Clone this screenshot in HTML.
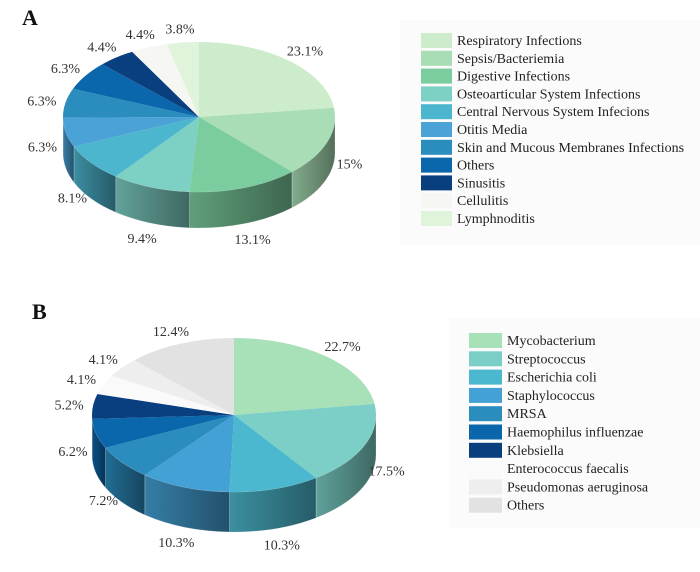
<!DOCTYPE html>
<html><head><meta charset="utf-8"><style>
body{margin:0;background:#fff;}
svg{display:block;font-family:"Liberation Serif",serif;}
</style></head><body>
<svg id="chart" width="700" height="572" viewBox="0 0 700 572" xmlns="http://www.w3.org/2000/svg">
<defs id="defs"></defs>
<rect x="0" y="0" width="700" height="572" fill="#fff"/>
<rect x="400" y="20" width="300" height="225" fill="#fbfbfb"/>
<rect x="450" y="318" width="250" height="210" fill="#fbfbfb"/>
<text x="22" y="25" font-size="22" font-weight="bold" fill="#111">A</text>
<text x="32" y="319" font-size="22" font-weight="bold" fill="#111">B</text>
<g id="pieA"></g>
<g id="pieB"></g>
<g id="legA"></g>
<g id="legB"></g>
</svg>
<script>
const catsA = ["Respiratory Infections","Sepsis/Bacteriemia","Digestive Infections","Osteoarticular System Infections","Central Nervous System Infecions","Otitis Media","Skin and Mucous Membranes Infections","Others","Sinusitis","Cellulitis","Lymphnoditis"];
const valsA = [23.1,15,13.1,9.4,8.1,6.3,6.3,6.3,4.4,4.4,3.8];
const labelsA = ["23.1%","15%","13.1%","9.4%","8.1%","6.3%","6.3%","6.3%","4.4%","4.4%","3.8%"];
const colorsA = ["#cdeccb","#a8ddb5","#7bcc9e","#7dd0c4","#4cb6cf","#4aa2d6","#2b8cbe","#0b67ab","#0a3f7f","#f6f7f2","#e0f3db"];
const catsB = ["Mycobacterium","Streptococcus","Escherichia coli","Staphylococcus","MRSA","Haemophilus influenzae","Klebsiella","Enterococcus faecalis","Pseudomonas aeruginosa","Others"];
const valsB = [22.7,17.5,10.3,10.3,7.2,6.2,5.2,4.1,4.1,12.4];
const labelsB = ["22.7%","17.5%","10.3%","10.3%","7.2%","6.2%","5.2%","4.1%","4.1%","12.4%"];
const colorsB = ["#a8e0b8","#7bcfc6","#4cb8cf","#44a1d6","#2b8cbe","#0b67ab","#0a3f7f","#fafafa","#eeeeee","#e2e2e2"];

const NS="http://www.w3.org/2000/svg";
const defs=document.getElementById('defs');
let gid=0;
function mk(tag,attrs,parent){const e=document.createElementNS(NS,tag);for(const k in attrs)e.setAttribute(k,attrs[k]);parent.appendChild(e);return e;}
function shade(hex,f){const n=parseInt(hex.slice(1),16);let r=(n>>16)&255,g=(n>>8)&255,b=n&255;r=Math.round(r*f);g=Math.round(g*f);b=Math.round(b*f);return "rgb("+r+","+g+","+b+")";}
function drawPie(g,vals,labels,colors,cx,cy,rx,ry,depth,name){
  const total=vals.reduce((a,b)=>a+b,0);
  const pt=(t,dy)=>[cx+rx*Math.sin(t),cy-ry*Math.cos(t)+(dy||0)];
  let a=0;const segs=[];
  vals.forEach((v,i)=>{const a1=a+v/total*2*Math.PI;segs.push([a,a1]);a=a1;});
  // side walls
  segs.forEach(([a0,a1],i)=>{
    const s=Math.max(a0,Math.PI/2),e=Math.min(a1,3*Math.PI/2);
    if(e<=s)return;
    const id="gr"+(gid++);
    const lg=mk('linearGradient',{id:id,x1:"0",y1:"0",x2:"1",y2:"0"},defs);
    mk('stop',{offset:"0",'stop-color':shade(colors[i],0.78)},lg);
    mk('stop',{offset:"1",'stop-color':shade(colors[i],0.5)},lg);
    const p0=pt(s),p1=pt(e),q1=pt(e,depth),q0=pt(s,depth);
    const d=`M${p0[0]},${p0[1]} A${rx},${ry} 0 0 1 ${p1[0]},${p1[1]} L${q1[0]},${q1[1]} A${rx},${ry} 0 0 0 ${q0[0]},${q0[1]} Z`;
    const p=mk('path',{d:d,fill:`url(#${id})`,stroke:"rgba(255,255,255,0.35)","stroke-width":"0.6"},g);
    
    
  });
  // top faces
  segs.forEach(([a0,a1],i)=>{
    const p0=pt(a0),p1=pt(a1);const large=(a1-a0)>Math.PI?1:0;
    const d=`M${cx},${cy} L${p0[0]},${p0[1]} A${rx},${ry} 0 ${large} 1 ${p1[0]},${p1[1]} Z`;
    const p=mk('path',{d:d,fill:colors[i]},g);
    
    
  });
  // labels
  segs.forEach(([a0,a1],i)=>{
    const m=(a0+a1)/2;
    const x=cx+(rx+24)*Math.sin(m);
    let y=cy-(ry+14)*Math.cos(m)+5;
    if(Math.cos(m)<0)y+=depth*(-Math.cos(m))+4;
    const t=mk('text',{x:x,y:y,'font-size':"14",fill:"#333",'text-anchor':"middle"},g);
    t.textContent=labels[i];
    
    
  });
}
function drawLegend(g,cats,colors,x,y0,pitch,w,h,name){
  cats.forEach((c,i)=>{
    const y=y0+i*pitch;
    const r=mk('rect',{x:x,y:y,width:w,height:h,fill:colors[i]},g);
    
    
    const t=mk('text',{x:x+w+5,y:y+h-3,'font-size':"14",fill:"#222"},g);
    t.textContent=c;
    
    
  });
}
drawPie(document.getElementById('pieA'),valsA,labelsA,colorsA,199,117,136,75,36,'pie-a');
drawPie(document.getElementById('pieB'),valsB,labelsB,colorsB,234,415,142,77,40,'pie-b');
drawLegend(document.getElementById('legA'),catsA,colorsA,421,33,17.8,31,15,'legend-a');
drawLegend(document.getElementById('legB'),catsB,colorsB,469,333,18.3,33,15,'legend-b');
</script>
</body></html>
